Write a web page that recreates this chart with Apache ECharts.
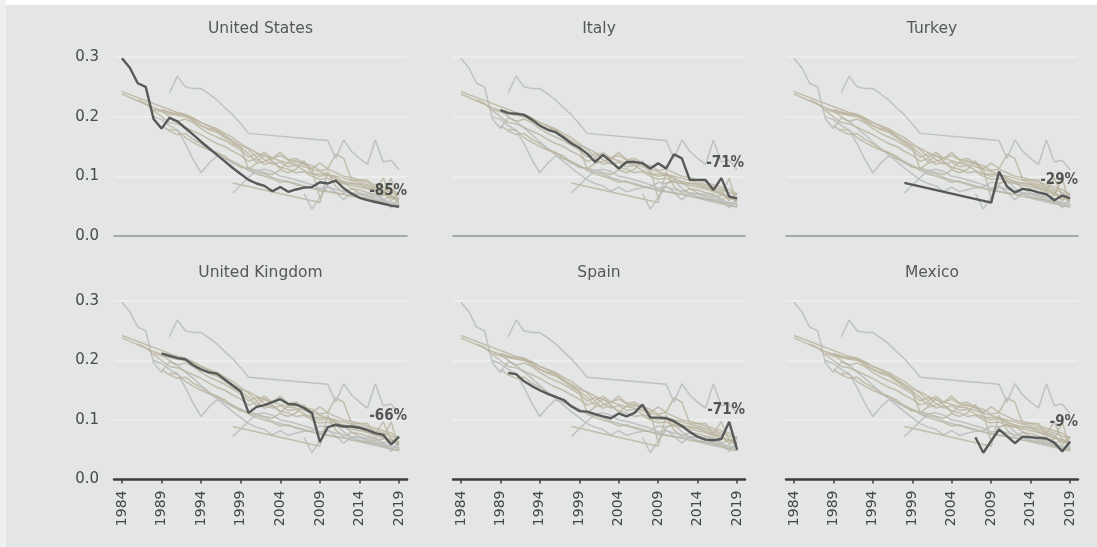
<!DOCTYPE html>
<html><head><meta charset="utf-8">
<script src="https://cdn.jsdelivr.net/npm/echarts@6/dist/echarts.min.js"></script>
<style>html,body{margin:0;padding:0;background:#e3e6e5}#c{width:1097px;height:547px}</style>
</head><body><div id="c"></div><script>
// ---- axis ticks ----
const xTickYears = [1984, 1989, 1994, 1999, 2004, 2009, 2014, 2019];
const yTickValues = [0, 0.1, 0.2, 0.3];

// ---- panels (highlighted country) and their change labels ----
const panelCountries = ['United States', 'Italy', 'Turkey', 'United Kingdom', 'Spain', 'Mexico'];
const pctLabels = ['-85%', '-71%', '-29%', '-66%', '-71%', '-9%'];

// ---- series values (first year + yearly values, null = no data) ----
const usStart = 1984;
const usValues = [0.298,0.282,0.256,0.250,0.196,0.180,0.198,0.192,0.181,0.170,0.158,0.147,0.136,0.125,0.114,0.104,0.094,0.088,0.084,0.075,0.082,0.074,0.078,0.081,0.082,0.090,0.088,0.093,0.080,0.071,0.064,0.060,0.057,0.054,0.051,0.049];
const italyStart = 1989;
const italyValues = [0.211,0.206,0.205,0.203,0.195,0.185,0.178,0.174,0.165,0.155,0.148,0.138,0.124,0.136,0.125,0.113,0.124,0.124,0.122,0.113,0.122,0.113,0.137,0.130,0.094,0.094,0.094,0.077,0.097,0.066,0.063];
const turkeyStart = 1998;
const turkeyValues = [0.089,null,null,null,null,null,null,null,null,null,null,0.056,0.108,0.083,0.073,0.079,0.077,0.073,0.070,0.060,0.068,0.063];
const ukStart = 1989;
const ukValues = [0.212,0.208,0.204,0.202,0.192,0.185,0.180,0.178,0.168,0.158,0.148,0.112,0.122,0.125,0.130,0.135,0.127,0.126,0.120,0.112,0.063,0.088,0.092,0.089,0.089,0.087,0.083,0.078,0.075,0.059,0.072];
const spainStart = 1990;
const spainValues = [0.179,0.177,0.165,0.157,0.150,0.144,0.139,0.134,0.123,0.115,0.114,0.110,0.106,0.103,0.111,0.106,0.112,0.126,0.104,0.104,0.103,0.098,0.090,0.080,0.072,0.067,0.066,0.068,0.097,0.050];
const mexicoStart = 2007;
const mexicoValues = [0.071,0.045,0.065,0.084,0.073,0.061,0.072,0.071,0.070,0.069,0.062,0.047,0.064];

// other peer countries (unlabelled grey lines)
const peerHStart = 1990;
const peerHValues = [0.240,0.268,0.250,0.247,0.247,0.238,0.228,0.215,0.203,0.188,0.172,null,null,null,null,null,null,null,null,null,0.160,0.130,0.161,0.142,0.130,0.120,0.161,0.124,0.127,0.111];
const peerAStart = 1984;
const peerAValues = [0.242,null,null,null,null,null,0.212,0.207,0.204,0.198,0.190,0.184,0.176,0.168,0.160,0.152,0.147,0.140,0.134,0.130,0.126,0.122,0.120,0.116,0.112,0.108,0.103,0.100,0.097,0.093,0.090,0.086,0.082,0.078,0.073,0.068];
const peerBStart = 1984;
const peerBValues = [0.238,null,null,null,0.215,0.210,0.200,0.192,0.196,0.190,0.180,0.172,0.166,0.160,0.152,0.144,0.132,0.138,0.128,0.120,0.124,0.116,0.118,0.110,0.104,0.100,0.102,0.095,0.092,0.088,0.086,0.080,0.076,0.072,0.066,0.060];
const peerCStart = 1988;
const peerCValues = [0.200,0.195,0.185,0.178,0.155,0.128,0.106,0.122,0.134,0.130,0.122,0.118,0.112,0.107,0.104,0.098,0.094,0.090,0.088,0.084,0.080,0.078,0.075,0.072,0.070,0.069,0.066,0.063,0.060,0.058,0.055,0.052];
const peerDStart = 1998;
const peerDValues = [0.072,0.085,0.098,0.110,0.112,0.108,0.100,0.098,0.094,0.090,0.086,0.080,0.082,0.078,0.075,0.072,0.070,0.066,0.063,0.060,0.056,0.054];
const peerEStart = 1988;
const peerEValues = [0.212,0.208,0.205,0.202,0.200,0.197,0.190,0.185,0.180,0.172,0.165,0.155,0.145,0.132,0.140,0.130,0.140,0.128,0.130,0.122,0.118,0.110,0.112,0.106,0.100,0.098,0.094,0.090,0.086,0.082,0.078,0.070];
const peerFStart = 1989;
const peerFValues = [0.185,0.176,0.170,0.172,0.162,0.155,0.145,0.140,0.130,0.125,0.118,0.110,0.104,0.100,0.096,0.090,0.092,0.086,0.083,0.080,0.076,0.074,0.072,0.070,0.066,0.064,0.062,0.060,0.056,0.052,0.048];
const peerGStart = 1986;
const peerGValues = [0.228,0.222,0.210,0.200,0.190,0.188,0.182,0.176,0.170,0.162,0.155,0.150,0.142,0.135,0.125,0.130,0.120,0.124,0.115,0.112,0.106,0.108,0.100,0.095,0.097,0.090,0.088,0.085,0.082,0.079,0.074,0.070,0.064,0.058];

// ---- lines (name, data, grey tone) ----
const lines = [
  {name: 'United States', start: usStart, values: usValues, tone: 'grey'},
  {name: 'Italy', start: italyStart, values: italyValues, tone: 'tan'},
  {name: 'Turkey', start: turkeyStart, values: turkeyValues, tone: 'tan'},
  {name: 'United Kingdom', start: ukStart, values: ukValues, tone: 'tan'},
  {name: 'Spain', start: spainStart, values: spainValues, tone: 'tan'},
  {name: 'Mexico', start: mexicoStart, values: mexicoValues, tone: 'grey'},
  {name: 'Peer H', start: peerHStart, values: peerHValues, tone: 'grey'},
  {name: 'Peer A', start: peerAStart, values: peerAValues, tone: 'tan'},
  {name: 'Peer B', start: peerBStart, values: peerBValues, tone: 'tan'},
  {name: 'Peer C', start: peerCStart, values: peerCValues, tone: 'grey'},
  {name: 'Peer D', start: peerDStart, values: peerDValues, tone: 'grey'},
  {name: 'Peer E', start: peerEStart, values: peerEValues, tone: 'tan'},
  {name: 'Peer F', start: peerFStart, values: peerFValues, tone: 'tan'},
  {name: 'Peer G', start: peerGStart, values: peerGValues, tone: 'tan'}
];

// ---- layout / style ----
const colLeft = [114, 453, 786];
const colWidth = [293, 292, 292];
const rowTop = [57, 301];
const rowHeight = [179, 178.5];
const titleTop = [21, 265];
const labelOffsets = [[8, -16], [7, -35], [8, -18], [8, -21], [8, -40], [8, -19]];
const toneColor = {grey: 'rgba(186,190,189,0.9)', tan: 'rgba(186,179,158,0.8)'};
const darkColor = '#575959';

function toPairs(l) {
  const out = [];
  l.values.forEach((v, i) => { if (v !== null) out.push([l.start + i, v]); });
  return out;
}

const grids = [], xAxes = [], yAxes = [], titles = [], series = [];
panelCountries.forEach((country, p) => {
  const col = p % 3, row = Math.floor(p / 3);
  const bottom = row === 1;
  grids.push({left: colLeft[col], top: rowTop[row], width: colWidth[col], height: rowHeight[row], containLabel: false});
  xAxes.push({
    gridIndex: p, type: 'value', min: 1983, max: 2020,
    axisLine: {show: true, lineStyle: {color: bottom ? '#3b3d3d' : '#8e9392', width: bottom ? 2.5 : 1.5}},
    axisTick: {show: bottom, customValues: xTickYears, length: 4, lineStyle: {color: '#3b3d3d', width: 1.5}},
    axisLabel: {show: bottom, customValues: xTickYears, rotate: 90, margin: 11, fontSize: 14,
      fontFamily: 'DejaVu Sans', color: '#444747', formatter: v => String(v)},
    splitLine: {show: false}
  });
  yAxes.push({
    gridIndex: p, type: 'value', min: 0, max: 0.3, interval: 0.1,
    axisLine: {show: false}, axisTick: {show: false},
    axisLabel: {show: col === 0, margin: 15, fontSize: 15, fontFamily: 'DejaVu Sans', color: '#474a4a',
      formatter: v => v.toFixed(1)},
    splitLine: {show: true, lineStyle: {color: '#eff1f0', width: 1.5}}
  });
  titles.push({
    text: country, left: colLeft[col] + colWidth[col] / 2, top: titleTop[row], textAlign: 'center', padding: 0,
    textStyle: {fontSize: 15.5, fontWeight: 'normal', fontFamily: 'DejaVu Sans', color: '#555857'}
  });
  let hl = null;
  lines.forEach(l => {
    if (l.name === country) { hl = l; return; }
    series.push({
      type: 'line', xAxisIndex: p, yAxisIndex: p, data: toPairs(l), showSymbol: false, symbol: 'none',
      silent: true, lineStyle: {color: toneColor[l.tone], width: 1.5}, z: 2
    });
  });
  const hlData = toPairs(hl);
  series.push({
    type: 'line', xAxisIndex: p, yAxisIndex: p, data: hlData, showSymbol: false, symbol: 'none',
    silent: true, lineStyle: {color: darkColor, width: 2.4}, z: 3
  });
  series.push({
    type: 'scatter', xAxisIndex: p, yAxisIndex: p, data: [hlData[hlData.length - 1]], symbolSize: 1,
    silent: true, itemStyle: {color: 'transparent'}, z: 4,
    label: {show: true, formatter: pctLabels[p], position: 'inside', align: 'right', verticalAlign: 'middle',
      offset: labelOffsets[p], fontSize: 15, fontWeight: 'bold',
      fontFamily: 'DejaVu Sans Condensed, Liberation Sans Narrow, DejaVu Sans', color: '#2f3131'}
  });
});

const chart = echarts.init(document.getElementById('c'), null, {renderer: 'canvas'});
chart.setOption({
  backgroundColor: '#e3e6e5',
  animation: false,
  title: titles,
  grid: grids, xAxis: xAxes, yAxis: yAxes, series: series,
  graphic: [
    {type: 'rect', left: 0, top: 0, z: 100, shape: {width: 1097, height: 5}, style: {fill: '#ffffff'}},
    {type: 'rect', left: 0, top: 0, z: 100, shape: {width: 6, height: 547}, style: {fill: '#eff1f0'}}
  ]
});
</script></body></html>
